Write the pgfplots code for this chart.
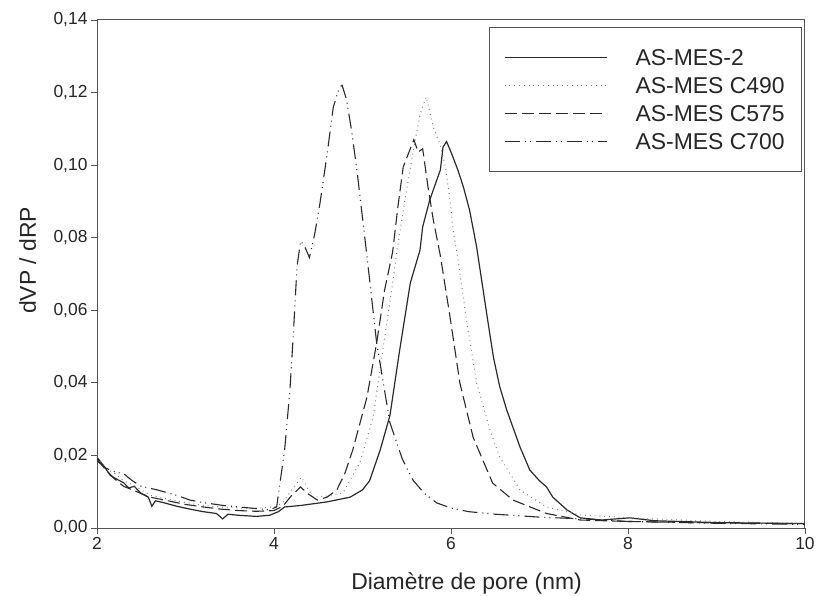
\documentclass[border=0pt]{standalone}
\usepackage{fontspec}
\setmainfont{Liberation Sans}
\usepackage{pgfplots}
\pgfplotsset{compat=1.18}

\pgfplotstableread{
x y
2.00 0.0195
2.08 0.0170
2.15 0.0145
2.22 0.0135
2.30 0.0125
2.36 0.0110
2.42 0.0115
2.50 0.0095
2.58 0.0085
2.62 0.0060
2.66 0.0075
2.75 0.0070
2.90 0.0060
3.05 0.0052
3.20 0.0045
3.35 0.0040
3.42 0.0025
3.48 0.0038
3.60 0.0035
3.80 0.0032
3.95 0.0035
4.05 0.0045
4.12 0.0058
4.30 0.0062
4.60 0.0072
4.86 0.0085
5.00 0.0105
5.08 0.0130
5.20 0.0215
5.31 0.0310
5.42 0.0490
5.54 0.0675
5.65 0.0766
5.68 0.0830
5.76 0.0904
5.88 0.0987
5.91 0.1050
5.95 0.1065
6.01 0.1030
6.08 0.0985
6.14 0.0940
6.21 0.0876
6.29 0.0774
6.41 0.0580
6.48 0.0470
6.55 0.0390
6.63 0.0325
6.78 0.0223
6.89 0.0160
7.00 0.0130
7.08 0.0113
7.15 0.0085
7.31 0.0050
7.46 0.0028
7.70 0.0022
8.02 0.0028
8.30 0.0020
9.00 0.0015
10.00 0.0012
}\asmestwo

\pgfplotstableread{
x y
2.00 0.0195
2.10 0.0165
2.20 0.0150
2.30 0.0130
2.40 0.0120
2.50 0.0105
2.60 0.0090
2.70 0.0085
2.80 0.0080
3.00 0.0070
3.20 0.0062
3.40 0.0058
3.60 0.0055
3.80 0.0055
4.00 0.0058
4.10 0.0070
4.20 0.0105
4.31 0.0140
4.38 0.0110
4.44 0.0085
4.60 0.0088
4.78 0.0097
4.97 0.0180
5.12 0.0306
5.23 0.0490
5.33 0.0656
5.39 0.0766
5.48 0.0904
5.56 0.1020
5.65 0.1140
5.72 0.1188
5.80 0.1105
5.88 0.1055
5.94 0.0990
5.99 0.0900
6.03 0.0810
6.07 0.0755
6.18 0.0565
6.29 0.0400
6.44 0.0270
6.55 0.0196
6.78 0.0105
7.08 0.0058
7.46 0.0036
8.02 0.0028
9.00 0.0018
10.00 0.0013
}\cfourninety

\pgfplotstableread{
x y
2.00 0.0190
2.10 0.0160
2.20 0.0135
2.30 0.0115
2.40 0.0105
2.50 0.0095
2.60 0.0085
2.80 0.0075
3.00 0.0065
3.20 0.0058
3.40 0.0052
3.60 0.0048
3.80 0.0046
4.00 0.0048
4.10 0.0060
4.20 0.0090
4.30 0.0113
4.38 0.0095
4.49 0.0077
4.60 0.0085
4.71 0.0105
4.80 0.0150
4.89 0.0215
5.05 0.0360
5.16 0.0510
5.25 0.0656
5.34 0.0760
5.40 0.0885
5.46 0.0995
5.50 0.1020
5.58 0.1070
5.63 0.1036
5.68 0.1045
5.74 0.0940
5.80 0.0849
5.88 0.0750
5.99 0.0580
6.10 0.0400
6.25 0.0250
6.47 0.0124
6.70 0.0077
7.08 0.0040
7.46 0.0022
8.00 0.0018
9.00 0.0014
10.00 0.0012
}\cfivesevenfive

\pgfplotstableread{
x y
2.00 0.0185
2.10 0.0165
2.20 0.0155
2.30 0.0150
2.40 0.0130
2.50 0.0115
2.68 0.0105
2.90 0.0090
3.05 0.0077
3.20 0.0070
3.43 0.0062
3.60 0.0058
3.87 0.0052
3.95 0.0050
4.03 0.0058
4.12 0.0215
4.18 0.0380
4.22 0.0540
4.26 0.0720
4.30 0.0790
4.34 0.0780
4.40 0.0745
4.46 0.0810
4.52 0.0896
4.60 0.1030
4.67 0.1160
4.74 0.1215
4.77 0.1220
4.82 0.1180
4.88 0.1090
4.94 0.0980
4.99 0.0876
5.05 0.0750
5.16 0.0510
5.31 0.0290
5.45 0.0190
5.57 0.0132
5.70 0.0095
5.84 0.0069
6.00 0.0055
6.20 0.0045
6.50 0.0038
7.00 0.0030
7.50 0.0025
8.00 0.0018
9.00 0.0013
10.00 0.0010
}\csevenhundred

\definecolor{lc}{HTML}{2A2A2A}
\definecolor{ax}{HTML}{555555}

\begin{document}
\begin{tikzpicture}
\useasboundingbox (-97bp,-68bp) rectangle (721bp,528bp);
\begin{axis}[
  scale only axis,
  width=708bp, height=508bp,
  xmin=2, xmax=10, ymin=0, ymax=0.14,
  xtick={2,4,6,8,10},
  ytick={0,0.02,0.04,0.06,0.08,0.10,0.12,0.14},
  tick pos=left,
  tick align=outside,
  major tick length=6bp,
  axis line style={ax, line width=1pt},
  every tick/.style={ax, line width=0.8pt},
  /pgf/number format/assume math mode=true,
  tick label style={font=\fontsize{17.5}{20}\selectfont, text=black!85},
  yticklabel style={/pgf/number format/.cd, fixed, fixed zerofill, precision=2, use comma},
  scaled y ticks=false,
  xlabel={Diamètre de pore (nm)},
  ylabel={dVP / dRP},
  label style={font=\fontsize{23}{26}\selectfont, text=black!85},
  xlabel style={at={(axis description cs:0.522,-0.122)}, anchor=base},
  ylabel style={at={(axis description cs:-0.0862,0.527)}, anchor=base},
  legend cell align=left,
  legend image code/.code={\draw[#1] (0bp,0bp) -- (102bp,0bp); \path[draw=none,fill=none] (0bp,0bp) -- (129bp,0bp);},
  legend style={at={(axis description cs:0.9958,0.986)}, anchor=north east,
    draw=ax, line width=0.8pt, font=\fontsize{23}{25}\selectfont, text=black!85,
    inner xsep=15bp, inner ysep=20bp, row sep=8bp,
    nodes={inner sep=2bp, text depth=0pt}},
]
\addplot[lc, line width=1.2pt] table {\asmestwo};
\addlegendentry{AS-MES-2}
\addplot[black!55, line width=1pt, dash pattern=on 0.8bp off 4bp] table {\cfourninety};
\addlegendentry{AS-MES C490}
\addplot[lc, line width=1.1pt, dash pattern=on 12bp off 5bp] table {\cfivesevenfive};
\addlegendentry{AS-MES C575}
\addplot[lc, line width=1.1pt, dash pattern=on 15bp off 5bp on 1bp off 4bp on 1bp off 5bp] table {\csevenhundred};
\addlegendentry{AS-MES C700}
\end{axis}
\end{tikzpicture}
\end{document}
